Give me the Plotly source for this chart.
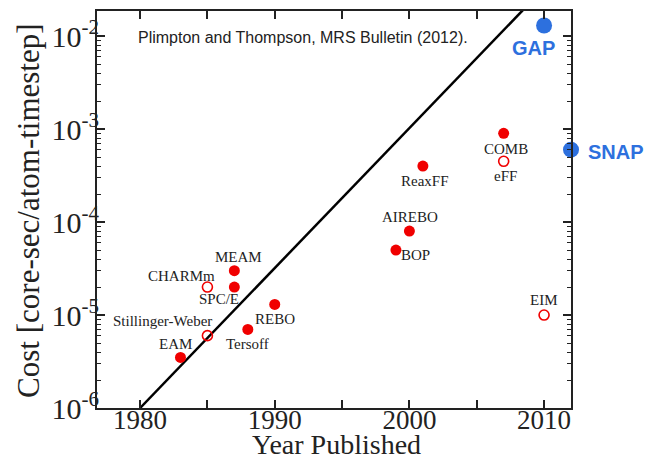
import math
import plotly.graph_objects as go

# Interatomic potentials: publication year vs. cost per atom per timestep
names = ["EAM", "Stillinger-Weber", "CHARMm", "SPC/E", "MEAM", "Tersoff", "REBO",
         "BOP", "AIREBO", "ReaxFF", "COMB", "eFF", "EIM"]
years = [1983, 1985, 1985, 1987, 1987, 1988, 1990, 1999, 2000, 2001, 2007, 2007, 2010]
costs = [3.5e-6, 6e-6, 2e-5, 2e-5, 3e-5, 7e-6, 1.3e-5, 5e-5, 8e-5, 4e-4, 9e-4, 4.5e-4, 1e-5]
filled = [True, False, False, True, True, True, True, True, True, True, True, False, False]

# Machine-learning potentials
ml_names = ["GAP", "SNAP"]
ml_years = [2010, 2012]
ml_costs = [1.3e-2, 6e-4]

# Trend line: cost doubling every two years
trend_years = [1980, 2010]
trend_costs = [1e-6, 3.28e-2]

x_tickvals = [1980, 1990, 2000, 2010]
x_minor = [1985, 1995, 2005]
y_tickvals = [1e-6, 1e-5, 1e-4, 1e-3, 1e-2]
y_ticktext = ["10<sup>-6</sup>", "10<sup>-5</sup>", "10<sup>-4</sup>", "10<sup>-3</sup>", "10<sup>-2</sup>"]
y_minor = [m * 10.0 ** e for e in range(-6, -1) for m in range(2, 10)]

x_title = "Year Published"
y_title = "Cost [core-sec/atom-timestep]"
citation = "Plimpton and Thompson, MRS Bulletin (2012)."

RED = "rgb(240,0,0)"
BLUE = "rgb(45,112,222)"
SERIF = "Liberation Serif"
SANS = "Liberation Sans"
INK = "#222"
FRAME = "#222"

# label offsets (pixels) relative to each marker
label_shift = {
    "EAM": (-5, 13), "Stillinger-Weber": (-45, 15), "CHARMm": (-26, 11),
    "SPC/E": (-15, -12), "MEAM": (4, 14), "Tersoff": (0, -15), "REBO": (0, -15),
    "BOP": (20, -5), "AIREBO": (1, 14), "ReaxFF": (2, -15), "COMB": (2, -16),
    "eFF": (2, -15), "EIM": (0, 15),
}

fig = go.Figure()

fig.add_trace(go.Scatter(
    x=trend_years, y=trend_costs, mode="lines",
    line=dict(color="black", width=2.5), hoverinfo="skip", showlegend=False,
))

fx = [x for x, f in zip(years, filled) if f]
fy = [y for y, f in zip(costs, filled) if f]
ox = [x for x, f in zip(years, filled) if not f]
oy = [y for y, f in zip(costs, filled) if not f]

fig.add_trace(go.Scatter(
    x=fx, y=fy, mode="markers",
    marker=dict(symbol="circle", size=11, color=RED, line=dict(width=0)),
    showlegend=False,
))
fig.add_trace(go.Scatter(
    x=ox, y=oy, mode="markers",
    marker=dict(symbol="circle-open", size=10, color=RED, line=dict(width=1.6, color=RED)),
    showlegend=False,
))
fig.add_trace(go.Scatter(
    x=ml_years, y=ml_costs, mode="markers", cliponaxis=False,
    marker=dict(symbol="circle", size=16, color=BLUE, line=dict(width=0)),
    showlegend=False,
))

# annotations on a log axis take log10 positions
for n, x, y in zip(names, years, costs):
    dx, dy = label_shift[n]
    fig.add_annotation(x=x, y=math.log10(y), xref="x", yref="y", text=n, showarrow=False,
                       xshift=dx, yshift=dy, xanchor="center", yanchor="middle",
                       font=dict(family=SERIF, size=15, color=INK))

fig.add_annotation(x=ml_years[0], y=math.log10(ml_costs[0]), text=ml_names[0], showarrow=False,
                   xshift=-11, yshift=-22, xanchor="center", yanchor="middle",
                   font=dict(family=SANS, size=20, color=BLUE, weight="bold"))
fig.add_annotation(x=ml_years[1], y=math.log10(ml_costs[1]), text=ml_names[1], showarrow=False,
                   xshift=15, yshift=-2, xanchor="left", yanchor="middle",
                   font=dict(family=SANS, size=20, color=BLUE, weight="bold"))

fig.add_annotation(x=0.082, y=0.932, xref="paper", yref="paper", text=citation,
                   showarrow=False, xanchor="left", yanchor="middle",
                   font=dict(family=SANS, size=16, color=INK))

# axis titles placed explicitly
fig.add_annotation(x=0.505, y=-0.092, xref="paper", yref="paper", text=x_title,
                   showarrow=False, xanchor="center", yanchor="middle",
                   font=dict(family=SERIF, size=28, color=INK))
fig.add_annotation(x=-0.146, y=0.496, xref="paper", yref="paper", text=y_title,
                   showarrow=False, xanchor="center", yanchor="middle", textangle=-90,
                   font=dict(family=SERIF, size=31, color=INK))

fig.update_xaxes(
    range=[1976.8, 2012], tickmode="array", tickvals=x_tickvals, ticktext=[str(v) for v in x_tickvals],
    ticks="inside", ticklen=8, tickwidth=1.5, tickcolor=FRAME,
    minor=dict(tickmode="array", tickvals=x_minor, ticks="inside", ticklen=8, tickwidth=1.5, tickcolor=FRAME),
    showline=True, linewidth=2, linecolor=FRAME, mirror="allticks",
    showgrid=False, zeroline=False, automargin=False, ticklabelstandoff=-13,
    tickfont=dict(family=SERIF, size=27, color=INK),
)
fig.update_yaxes(
    type="log", range=[-6, -1.73], tickmode="array", tickvals=y_tickvals, ticktext=y_ticktext,
    ticks="inside", ticklen=8, tickwidth=1.5, tickcolor=FRAME,
    minor=dict(tickmode="array", tickvals=y_minor, ticks="inside", ticklen=4, tickwidth=1.2, tickcolor=FRAME),
    showline=True, linewidth=2, linecolor=FRAME, mirror="allticks",
    showgrid=False, zeroline=False, automargin=False, ticklabelstandoff=-10,
    tickfont=dict(family=SERIF, size=30, color=INK),
)

fig.update_layout(
    width=646, height=460,
    margin=dict(l=97, r=75, t=11, b=52),
    paper_bgcolor="white", plot_bgcolor="white",
)

fig.write_html("out.html")
